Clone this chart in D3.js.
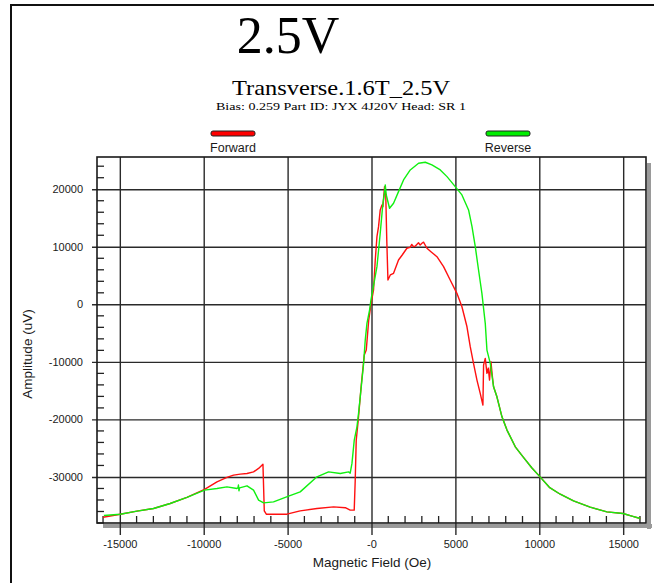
<!DOCTYPE html>
<html>
<head>
<meta charset="utf-8">
<script src="https://cdn.jsdelivr.net/npm/d3@7/dist/d3.min.js"></script>
<style>
  html, body { margin: 0; padding: 0; background: #fff; }
  svg { display: block; }
  text { font-family: "Liberation Sans", Arial, sans-serif; fill: #1a1a1a; }
  .serif { font-family: "Liberation Serif", "Times New Roman", serif; fill: #000; }
</style>
</head>
<body>
<svg id="chart" width="654" height="583"></svg>
<script>
// Magnetic field sweep (Oe) and amplitude (uV), forward direction
const forwardField = [-16000,-14975,-13980,-12990,-12000,-11000,-9950,-9210,-8615,-8220,-7820,-7420,-7030,-6730,-6470,
  -6390,-6270,-5040,-4250,-3250,-2260,-1560,-1270,-1030,-970,-910,-790,-610,-430,-313,-165,-33,122,224,325,420,520,623,680,778,
  850,910,980,1120,1315,1610,1830,2110,2300,2400,2505,2600,2730,2800,2900,3005,3100,3305,3560,3900,4295,4690,5090,5390,5690,
  5885,6080,6285,6480,6640,6680,6780,6880,6960,7035,7120,7195,7275,7475,7775,8075,8570,9045,9550,10060,10600,11250,12040,13030,14030,
  14990,15520,16020];
const forwardAmp = [-36990,-36470,-35940,-35480,-34610,-33560,-32170,-30850,-30080,-29680,-29510,-29390,-29110,-28520,-27770,
  -35890,-36470,-36470,-35890,-35480,-35200,-35340,-35770,-35770,-30560,-23600,-20120,-14030,-8820,-7950,-2730,0,2490,7700,11760,13500,16400,17270,16970,20450,
  19000,11200,4230,5100,5390,7700,8570,9740,9900,10400,10020,10100,10490,10700,10300,10610,10800,9740,9100,8280,6540,4230,1910,-420,-3900,
  -7370,-10260,-13160,-15480,-17510,-10560,-9390,-12000,-11080,-13160,-9980,-12290,-14330,-16070,-19550,-21860,-24760,-26550,-28400,-30030,-31800,-33000,-34150,-35250,-36070,
  -36350,-36810,-37210];

// Reverse direction
const reverseField = [-15950,-14975,-13980,-12990,-12000,-11000,-9950,-9210,-8615,-8020,-7960,-7930,-7900,-7860,-7420,-7030,-6730,-6430,
  -5840,-4940,-4250,-3250,-2560,-1860,-1370,-1270,-1165,-1028,-867,-772,-670,-569,-470,-373,-271,-116,-33,325,520,680,760,820,880,
  1075,1315,1610,1910,2310,2805,3205,3600,4100,4500,4990,5390,5785,5990,6185,6380,6580,6780,6880,7080,7275,7475,7775,8075,8570,
  9045,9550,10060,10600,11250,12040,13030,14030,14990,15520,16020];
const reverseAmp = [-36700,-36470,-35940,-35480,-34610,-33560,-32290,-32000,-31720,-32000,-31900,-31400,-32400,-31900,-31540,-32290,-34030,-34500,
  -34330,-33340,-32590,-29980,-29110,-29390,-29110,-29340,-27650,-23600,-21290,-18960,-16070,-13160,-10260,-6210,-3300,-990,750,6540,12350,17560,19000,20750,19000,
  16690,17560,19580,21620,23350,24520,24690,24220,23350,22190,20450,19010,16400,13500,10020,5960,1910,-3300,-7950,-10260,-14330,-16070,-19550,-21860,-24760,
  -26550,-28400,-30030,-31800,-33000,-34150,-35250,-36070,-36350,-36810,-37210];

const xTickValues = [-15000,-10000,-5000,0,5000,10000,15000];
const xTickLabels = ["-15000","-10000","-5000","-0","5000","10000","15000"];
const yTickValues = [-30000,-20000,-10000,0,10000,20000];
const yTickLabels = ["-30000","-20000","-10000","0","10000","20000"];

const svg = d3.select("#chart");
const plot = { left: 97, top: 157, right: 646, bottom: 523 };

const x = d3.scaleLinear().domain([-16360, 16360]).range([plot.left, plot.right]);
const y = d3.scaleLinear().domain([-38000, 25600]).range([plot.bottom, plot.top]);

// page frame
svg.append("path").attr("d", "M11,583 L11,5 L654,5").attr("fill", "none")
  .attr("stroke", "#111").attr("stroke-width", 2);

// titles
svg.append("text").attr("class", "serif").attr("x", 288).attr("y", 53)
  .attr("text-anchor", "middle").attr("font-size", 52).text("2.5V");
svg.append("text").attr("class", "serif").attr("x", 341).attr("y", 95)
  .attr("text-anchor", "middle").attr("font-size", 22)
  .attr("textLength", 218).attr("lengthAdjust", "spacingAndGlyphs").text("Transverse.1.6T_2.5V");
svg.append("text").attr("class", "serif").attr("x", 341).attr("y", 110)
  .attr("text-anchor", "middle").attr("font-size", 11)
  .attr("textLength", 250).attr("lengthAdjust", "spacingAndGlyphs")
  .text("Bias: 0.259 Part ID: JYX 4J20V Head: SR 1");

// legend
const legend = [{ name: "Forward", color: "#ff0000", cx: 233 }, { name: "Reverse", color: "#00ee00", cx: 508 }];
legend.forEach(d => {
  svg.append("rect").attr("x", d.cx - 22).attr("y", 131).attr("width", 44).attr("height", 5)
    .attr("rx", 2).attr("fill", d.color).attr("stroke", "#222").attr("stroke-width", 1);
  svg.append("text").attr("x", d.cx).attr("y", 152).attr("text-anchor", "middle")
    .attr("font-size", 12.5).text(d.name);
});

// plot shadow
svg.append("rect").attr("x", plot.right + 1).attr("y", plot.top + 6).attr("width", 4)
  .attr("height", plot.bottom - plot.top).attr("fill", "#9a9a9a");
svg.append("rect").attr("x", plot.left + 6).attr("y", plot.bottom + 1)
  .attr("width", plot.right - plot.left).attr("height", 4).attr("fill", "#9a9a9a");

// minor ticks
const xMinor = d3.range(-16000, 16001, 1000).filter(v => v % 5000 !== 0);
const yMinor = d3.range(-38000, 25601, 2000).filter(v => v % 10000 !== 0);
svg.append("g").selectAll("line").data(xMinor).join("line")
  .attr("x1", d => x(d)).attr("x2", d => x(d)).attr("y1", plot.bottom - 7).attr("y2", plot.bottom)
  .attr("stroke", "#222").attr("stroke-width", 1.3);
svg.append("g").selectAll("line").data(yMinor).join("line")
  .attr("x1", plot.left).attr("x2", plot.left + 7).attr("y1", d => y(d)).attr("y2", d => y(d))
  .attr("stroke", "#222").attr("stroke-width", 1.3);

// major grid via axes
const xAxis = d3.axisBottom(x).tickValues(xTickValues)
  .tickFormat((d, i) => xTickLabels[i]).tickSize(-(plot.bottom - plot.top)).tickPadding(0);
const gx = svg.append("g").attr("transform", `translate(0,${plot.bottom})`).call(xAxis);
gx.select(".domain").remove();
gx.selectAll(".tick line").attr("y2", 12).attr("y1", -(plot.bottom - plot.top))
  .attr("stroke", "#2a2a2a").attr("stroke-width", 1.4);
gx.selectAll(".tick text").attr("y", 21).attr("dy", "0.32em").attr("font-size", 11)
  .attr("font-family", "Liberation Sans, Arial, sans-serif").attr("fill", "#1a1a1a");

const yAxis = d3.axisLeft(y).tickValues(yTickValues)
  .tickFormat((d, i) => yTickLabels[i]).tickSize(5).tickPadding(9);
const gy = svg.append("g").attr("transform", `translate(${plot.left},0)`).call(yAxis);
gy.select(".domain").remove();
gy.selectAll(".tick line").attr("x1", -5).attr("x2", plot.right - plot.left)
  .attr("stroke", "#2a2a2a").attr("stroke-width", 1.4);
gy.selectAll(".tick text").attr("font-size", 11)
  .attr("font-family", "Liberation Sans, Arial, sans-serif").attr("fill", "#1a1a1a");

// data lines
const line = d3.line().x(d => x(d[0])).y(d => y(d[1]));
const fwd = d3.zip(forwardField, forwardAmp);
const rev = d3.zip(reverseField, reverseAmp);
svg.append("path").datum(fwd).attr("d", line).attr("fill", "none")
  .attr("stroke", "#ff1010").attr("stroke-width", 1.4).attr("stroke-linejoin", "round");
svg.append("path").datum(rev).attr("d", line).attr("fill", "none")
  .attr("stroke", "#10f010").attr("stroke-width", 1.4).attr("stroke-linejoin", "round");

// plot border
svg.append("rect").attr("x", plot.left).attr("y", plot.top)
  .attr("width", plot.right - plot.left).attr("height", plot.bottom - plot.top)
  .attr("fill", "none").attr("stroke", "#1a1a1a").attr("stroke-width", 1.6);

// axis titles
svg.append("text").attr("x", 372).attr("y", 567).attr("text-anchor", "middle")
  .attr("font-size", 13.5).text("Magnetic Field (Oe)");
svg.append("text").attr("transform", "translate(32,354) rotate(-90)").attr("text-anchor", "middle")
  .attr("font-size", 13.5).text("Amplitude (uV)");
</script>
</body>
</html>
